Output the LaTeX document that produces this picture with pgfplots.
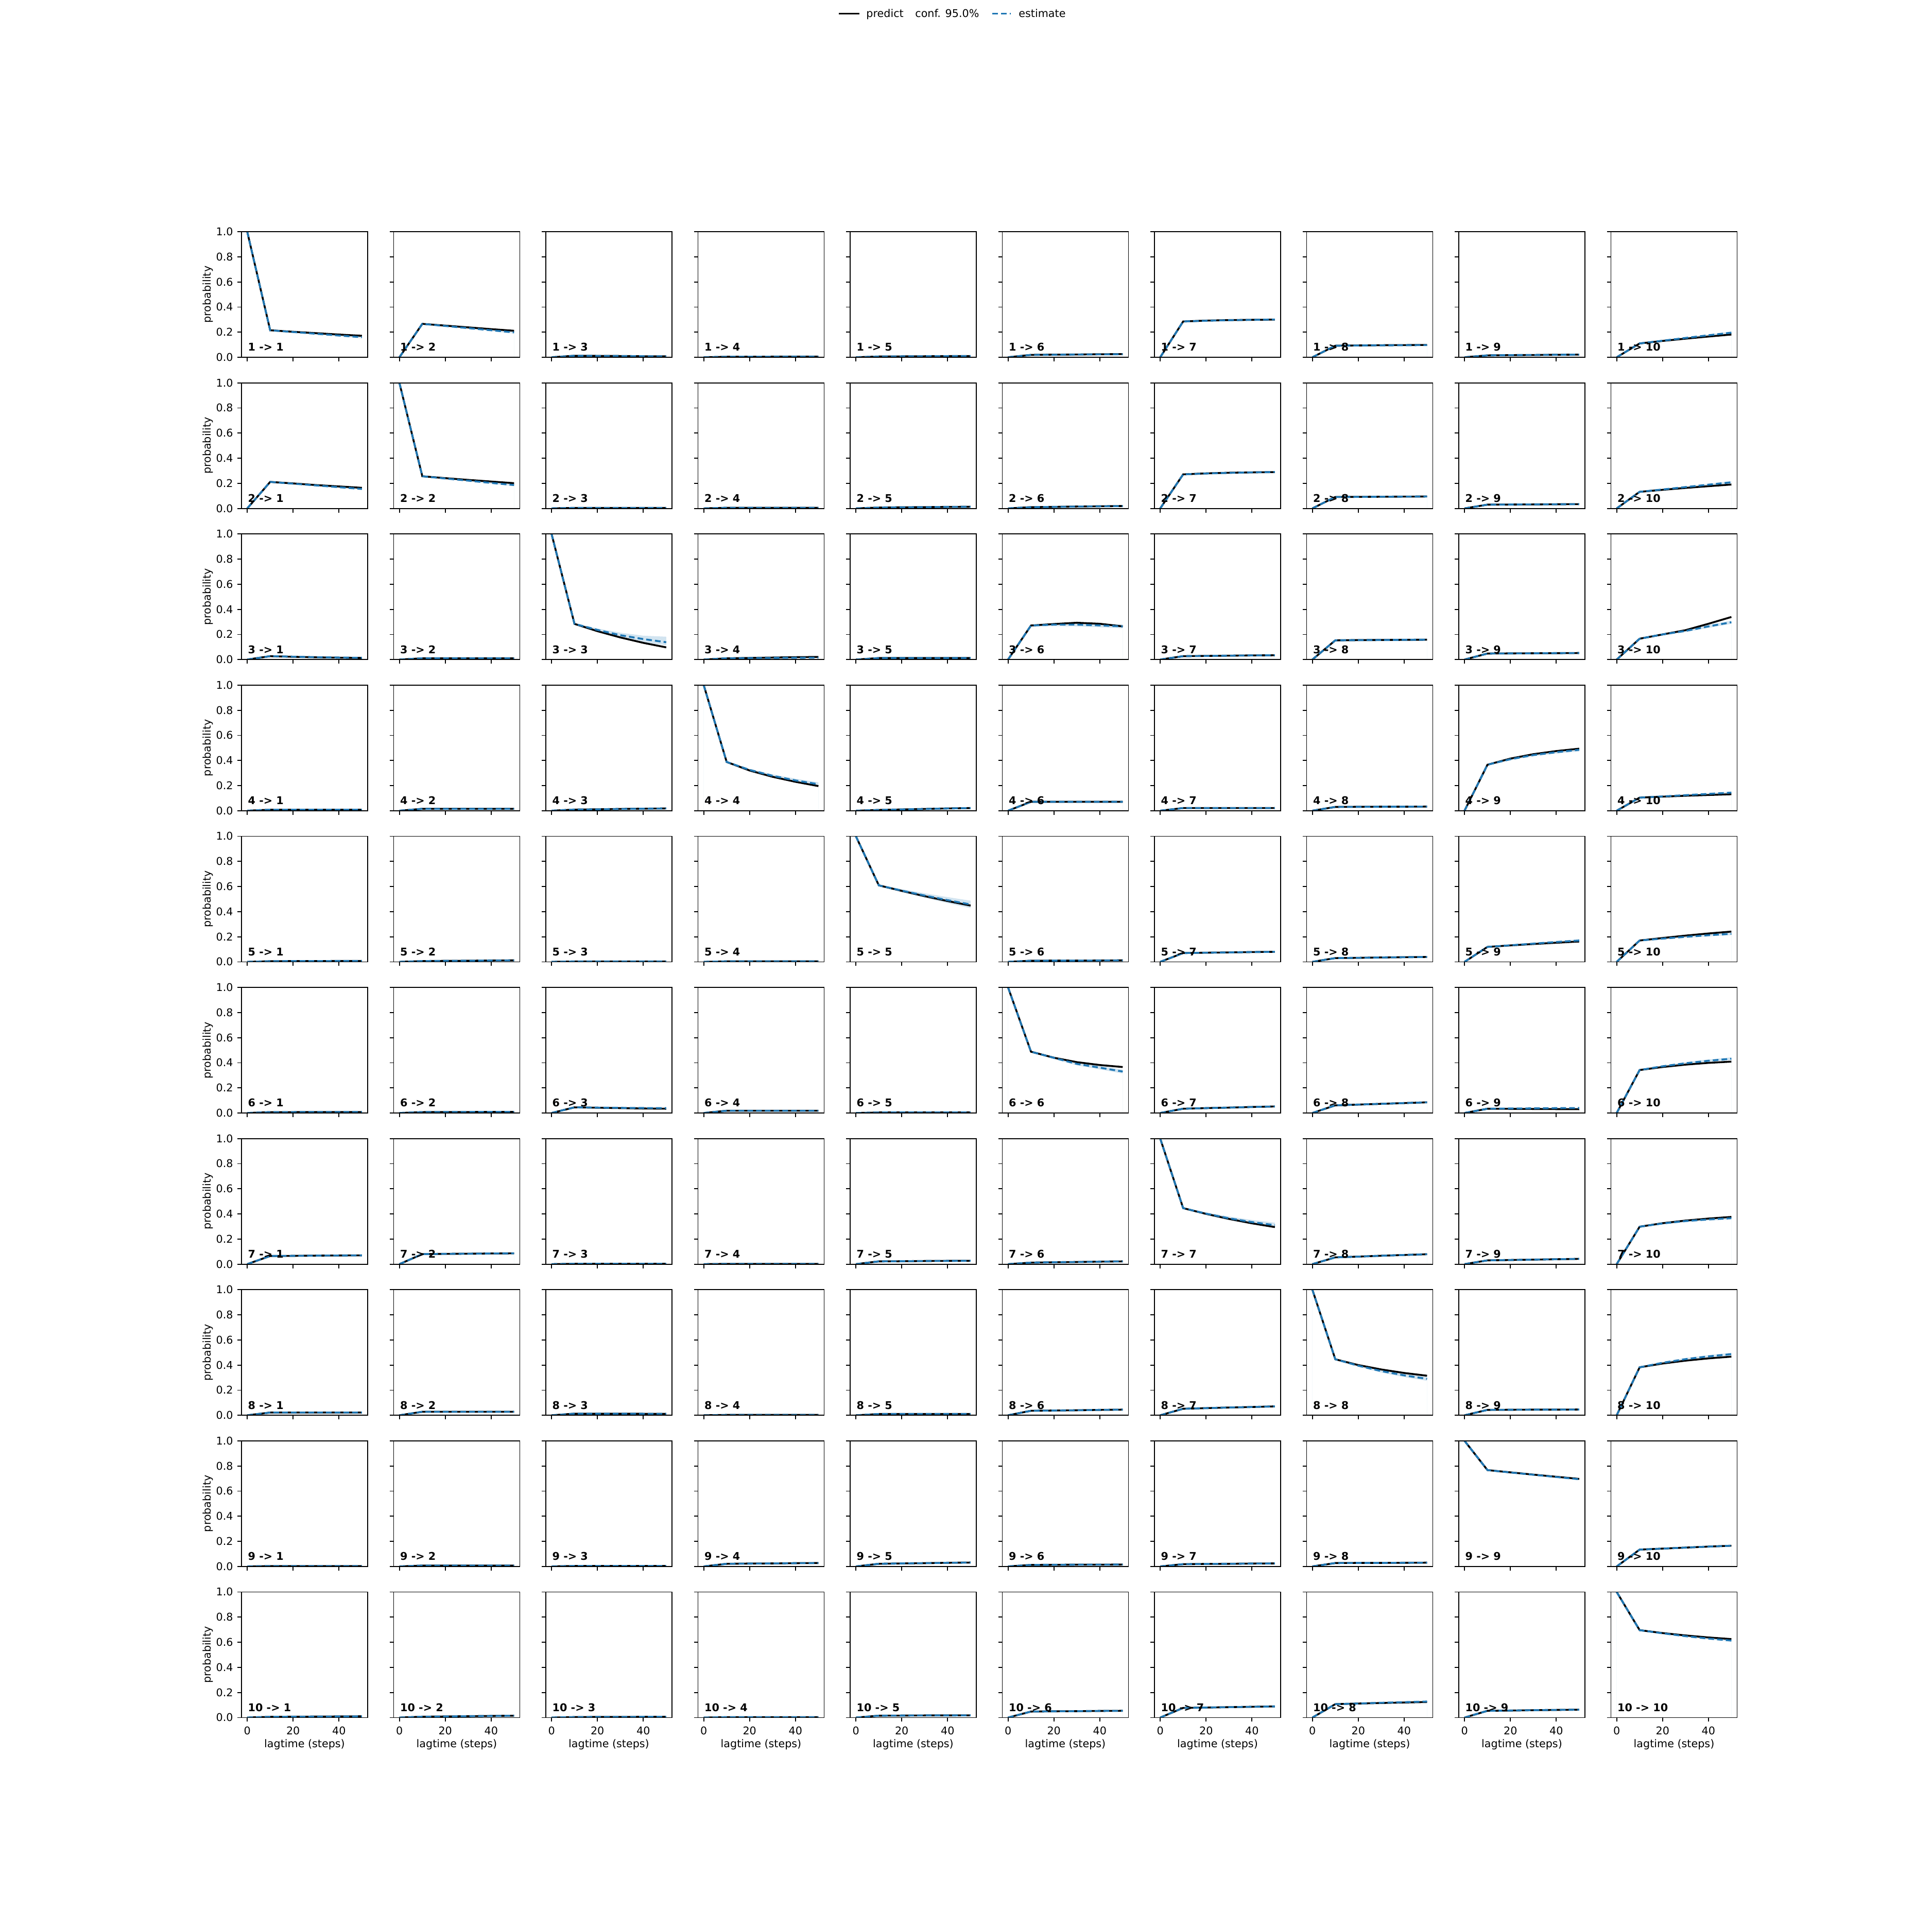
\documentclass[border=0pt]{standalone}
\usepackage{pgfplots}
\pgfplotsset{compat=1.18}
\usepackage{pgfplotstable}
\usepackage{fontspec}
\setmainfont{DejaVu Sans}
\definecolor{c0}{HTML}{1F77B4}
\pgfplotsset{
 panel/.style={
  scale only axis, width=122.5pt, height=122pt, anchor=north west,
  xmin=-2.5, xmax=52.5, ymin=0, ymax=1,
  xtick={0,20,40}, ytick={0,0.2,0.4,0.6,0.8,1.0},
  tick pos=left, tick align=outside, major tick length=4pt,
  major tick style={black, line width=0.9pt},
  axis line style={line width=0.9pt},
  axis on top,
  /pgf/number format/assume math mode=true,
  yticklabel style={/pgf/number format/fixed, /pgf/number format/fixed zerofill, /pgf/number format/precision=1, inner sep=0pt, xshift=-4pt},
  xticklabel style={inner sep=0pt, yshift=-4.5pt},
  xlabel style={at={(axis description cs:0.5,-0.214)}, anchor=center, inner sep=0pt},
  ylabel style={at={(axis description cs:-0.265,0.5)}, anchor=center, inner sep=0pt},
  no markers,
 }}
\newcommand\panel[3]{%
 \pgfplotstableread[row sep=\\]{x p e lo hi\\#3}\tbl
 \ifnum#2=1 \pgfplotsset{colst/.style={ylabel={probability}}}\else\pgfplotsset{colst/.style={yticklabels={}}}\fi
 \ifnum#1=10 \pgfplotsset{rowst/.style={xlabel={lagtime (steps)}}}\else\pgfplotsset{rowst/.style={xticklabels={}}}\fi
 \begin{axis}[panel, colst, rowst, at={({234.5pt+(#2-1)*147.75pt},{-225pt-(#1-1)*146.8pt})}]
  \addplot[fill=c0, fill opacity=0.2, draw=none] table[x=x,y=hi]{\tbl} \closedcycle;
  \addplot[fill=white, draw=none] table[x=x,y=lo]{\tbl} \closedcycle;
  \addplot[black, line width=1.8pt] table[x=x,y=p]{\tbl};
  \addplot[c0, line width=1.8pt, dash pattern=on 5.5pt off 3pt] table[x=x,y=e]{\tbl};
  \node[anchor=base west, inner sep=0pt, font=\bfseries] at (rel axis cs:0.05,0.05) {#1 -> #2};
 \end{axis}}
\begin{document}
\fontsize{10.35pt}{12.4pt}\selectfont
\begin{tikzpicture}
\path[use as bounding box] (0,0) rectangle (1875.5pt,-1875.5pt);
% legend
\draw[black, line width=1.8pt] (814.5pt,-13.3pt) -- (834.5pt,-13.3pt);
\node[anchor=base west, inner sep=0pt] at (841pt,-16.75pt) {predict};
\node[anchor=base west, inner sep=0pt] at (888.5pt,-16.75pt) {conf. 95.0\%};
\draw[c0, line width=1.8pt, dash pattern=on 5.5pt off 3pt] (963.5pt,-13.3pt) -- (981.5pt,-13.3pt);
\node[anchor=base west, inner sep=0pt] at (989pt,-16.75pt) {estimate};
% row 1
\panel{1}{1}{0 1 1 1 1\\10 .215 .215 .211 .219\\20 .203 .201 .195 .207\\30 .192 .187 .180 .194\\40 .181 .173 .165 .181\\50 .171 .160 .151 .169\\}
\panel{1}{2}{0 0 0 0 0\\10 .266 .266 .261 .271\\20 .252 .249 .243 .255\\30 .238 .232 .225 .239\\40 .224 .215 .207 .223\\50 .211 .198 .189 .207\\}
\panel{1}{3}{0 0 0 0 0\\10 .012 .012 .010 .014\\20 .011 .011 .009 .013\\30 .010 .010 .008 .012\\40 .008 .008 .006 .010\\50 .007 .007 .005 .009\\}
\panel{1}{4}{0 0 0 0 0\\10 .004 .004 .002 .006\\20 .004 .004 .002 .006\\30 .005 .005 .003 .007\\40 .005 .005 .003 .007\\50 .005 .005 .003 .007\\}
\panel{1}{5}{0 0 0 0 0\\10 .006 .006 .004 .008\\20 .007 .007 .005 .009\\30 .008 .008 .006 .010\\40 .009 .009 .007 .011\\50 .010 .010 .008 .012\\}
\panel{1}{6}{0 0 0 0 0\\10 .019 .019 .016 .022\\20 .021 .020 .017 .023\\30 .022 .022 .019 .025\\40 .024 .023 .020 .026\\50 .025 .024 .021 .027\\}
\panel{1}{7}{0 0 0 0 0\\10 .285 .285 .279 .291\\20 .292 .291 .285 .297\\30 .296 .295 .289 .301\\40 .298 .298 .292 .304\\50 .300 .301 .295 .307\\}
\panel{1}{8}{0 0 0 0 0\\10 .092 .092 .088 .096\\20 .094 .094 .090 .098\\30 .096 .095 .091 .099\\40 .097 .096 .092 .100\\50 .098 .097 .093 .101\\}
\panel{1}{9}{0 0 0 0 0\\10 .015 .015 .012 .018\\20 .017 .017 .014 .020\\30 .018 .018 .015 .021\\40 .020 .020 .017 .023\\50 .021 .021 .018 .024\\}
\panel{1}{10}{0 0 0 0 0\\10 .110 .110 .106 .114\\20 .130 .132 .126 .138\\30 .148 .154 .147 .161\\40 .165 .175 .167 .183\\50 .181 .196 .187 .205\\}
% row 2
\panel{2}{1}{0 0 0 0 0\\10 .211 .211 .207 .215\\20 .199 .197 .191 .203\\30 .186 .183 .176 .190\\40 .175 .169 .161 .177\\50 .164 .155 .146 .164\\}
\panel{2}{2}{0 1 1 1 1\\10 .256 .256 .252 .260\\20 .241 .238 .232 .244\\30 .227 .221 .214 .228\\40 .214 .203 .195 .211\\50 .201 .186 .177 .195\\}
\panel{2}{3}{0 0 0 0 0\\10 .004 .004 .002 .006\\20 .004 .004 .002 .006\\30 .004 .004 .002 .006\\40 .004 .004 .002 .006\\50 .004 .004 .002 .006\\}
\panel{2}{4}{0 0 0 0 0\\10 .005 .005 .003 .007\\20 .005 .005 .003 .007\\30 .005 .005 .003 .007\\40 .005 .005 .003 .007\\50 .005 .005 .003 .007\\}
\panel{2}{5}{0 0 0 0 0\\10 .007 .007 .005 .009\\20 .009 .009 .007 .011\\30 .010 .010 .008 .012\\40 .012 .012 .010 .014\\50 .013 .013 .011 .015\\}
\panel{2}{6}{0 0 0 0 0\\10 .010 .010 .007 .013\\20 .012 .012 .009 .015\\30 .015 .015 .012 .018\\40 .017 .017 .014 .020\\50 .019 .019 .016 .022\\}
\panel{2}{7}{0 0 0 0 0\\10 .271 .271 .265 .277\\20 .279 .278 .272 .284\\30 .284 .283 .277 .289\\40 .287 .287 .281 .293\\50 .289 .290 .284 .296\\}
\panel{2}{8}{0 0 0 0 0\\10 .091 .091 .087 .095\\20 .092 .092 .088 .096\\30 .093 .093 .089 .097\\40 .094 .094 .090 .098\\50 .095 .095 .091 .099\\}
\panel{2}{9}{0 0 0 0 0\\10 .030 .030 .027 .033\\20 .031 .031 .028 .034\\30 .032 .032 .029 .035\\40 .033 .033 .030 .036\\50 .034 .034 .031 .037\\}
\panel{2}{10}{0 0 0 0 0\\10 .132 .132 .128 .136\\20 .148 .151 .145 .157\\30 .163 .170 .163 .177\\40 .177 .189 .181 .197\\50 .190 .208 .199 .217\\}
% row 3
\panel{3}{1}{0 0 0 0 0\\10 .027 .027 .024 .030\\20 .022 .023 .020 .026\\30 .018 .019 .016 .022\\40 .015 .016 .013 .019\\50 .013 .014 .011 .017\\}
\panel{3}{2}{0 0 0 0 0\\10 .010 .010 .008 .012\\20 .010 .010 .008 .012\\30 .010 .010 .008 .012\\40 .010 .010 .008 .012\\50 .010 .010 .008 .012\\}
\panel{3}{3}{0 1 1 1 1\\10 .284 .284 .276 .292\\20 .226 .236 .224 .248\\30 .176 .194 .174 .214\\40 .133 .163 .136 .190\\50 .097 .138 .114 .182\\}
\panel{3}{4}{0 0 0 0 0\\10 .010 .010 .008 .012\\20 .013 .012 .010 .014\\30 .016 .013 .011 .015\\40 .019 .014 .012 .016\\50 .021 .015 .013 .017\\}
\panel{3}{5}{0 0 0 0 0\\10 .012 .012 .010 .014\\20 .012 .012 .010 .014\\30 .012 .012 .010 .014\\40 .012 .012 .010 .014\\50 .012 .012 .010 .014\\}
\panel{3}{6}{0 0 0 0 0\\10 .271 .271 .263 .279\\20 .283 .278 .266 .290\\30 .293 .278 .264 .292\\40 .285 .272 .257 .287\\50 .264 .264 .248 .280\\}
\panel{3}{7}{0 0 0 0 0\\10 .027 .027 .024 .030\\20 .029 .029 .026 .032\\30 .031 .031 .028 .034\\40 .033 .033 .030 .036\\50 .034 .034 .031 .037\\}
\panel{3}{8}{0 0 0 0 0\\10 .153 .153 .143 .163\\20 .155 .155 .145 .165\\30 .156 .156 .146 .166\\40 .157 .157 .147 .167\\50 .158 .158 .148 .168\\}
\panel{3}{9}{0 0 0 0 0\\10 .048 .048 .044 .052\\20 .049 .049 .045 .053\\30 .050 .050 .046 .054\\40 .051 .051 .047 .055\\50 .052 .052 .048 .056\\}
\panel{3}{10}{0 0 0 0 0\\10 .166 .166 .160 .172\\20 .200 .200 .192 .208\\30 .234 .228 .218 .238\\40 .285 .264 .252 .276\\50 .339 .297 .284 .310\\}
% row 4
\panel{4}{1}{0 0 0 0 0\\10 .008 .008 .006 .010\\20 .008 .008 .006 .010\\30 .008 .008 .006 .010\\40 .008 .008 .006 .010\\50 .008 .008 .006 .010\\}
\panel{4}{2}{0 0 0 0 0\\10 .015 .015 .013 .017\\20 .015 .015 .013 .017\\30 .015 .015 .013 .017\\40 .015 .015 .013 .017\\50 .015 .015 .013 .017\\}
\panel{4}{3}{0 0 0 0 0\\10 .009 .009 .007 .011\\20 .011 .011 .009 .013\\30 .014 .014 .012 .016\\40 .016 .016 .014 .018\\50 .018 .018 .016 .020\\}
\panel{4}{4}{0 1 1 1 1\\10 .388 .388 .382 .394\\20 .320 .325 .316 .334\\30 .270 .278 .266 .290\\40 .230 .241 .227 .255\\50 .196 .211 .196 .226\\}
\panel{4}{5}{0 0 0 0 0\\10 .006 .006 .004 .008\\20 .010 .010 .008 .012\\30 .014 .014 .012 .016\\40 .018 .018 .016 .020\\50 .021 .021 .019 .023\\}
\panel{4}{6}{0 0 0 0 0\\10 .071 .071 .067 .075\\20 .071 .071 .067 .075\\30 .071 .071 .067 .075\\40 .071 .071 .067 .075\\50 .071 .071 .067 .075\\}
\panel{4}{7}{0 0 0 0 0\\10 .021 .021 .018 .024\\20 .021 .021 .018 .024\\30 .021 .021 .018 .024\\40 .021 .021 .018 .024\\50 .021 .021 .018 .024\\}
\panel{4}{8}{0 0 0 0 0\\10 .030 .030 .027 .033\\20 .031 .031 .028 .034\\30 .032 .032 .029 .035\\40 .032 .032 .029 .035\\50 .033 .033 .030 .036\\}
\panel{4}{9}{0 0 0 0 0\\10 .366 .366 .360 .372\\20 .415 .410 .401 .419\\30 .450 .443 .432 .454\\40 .475 .466 .454 .478\\50 .494 .485 .472 .498\\}
\panel{4}{10}{0 0 0 0 0\\10 .104 .104 .100 .108\\20 .112 .114 .109 .119\\30 .119 .124 .118 .130\\40 .125 .134 .127 .141\\50 .131 .144 .136 .152\\}
% row 5
\panel{5}{1}{0 0 0 0 0\\10 .005 .005 .003 .007\\20 .006 .006 .004 .008\\30 .006 .006 .004 .008\\40 .007 .007 .005 .009\\50 .007 .007 .005 .009\\}
\panel{5}{2}{0 0 0 0 0\\10 .006 .006 .004 .008\\20 .008 .008 .006 .010\\30 .009 .009 .007 .011\\40 .011 .011 .009 .013\\50 .012 .012 .010 .014\\}
\panel{5}{3}{0 0 0 0 0\\10 .003 .003 .001 .005\\20 .003 .003 .001 .005\\30 .003 .003 .001 .005\\40 .003 .003 .001 .005\\50 .003 .003 .001 .005\\}
\panel{5}{4}{0 0 0 0 0\\10 .004 .004 .002 .006\\20 .004 .004 .002 .006\\30 .004 .004 .002 .006\\40 .004 .004 .002 .006\\50 .004 .004 .002 .006\\}
\panel{5}{5}{0 1 1 1 1\\10 .609 .609 .603 .615\\20 .565 .567 .555 .579\\30 .523 .528 .510 .546\\40 .484 .491 .467 .515\\50 .448 .457 .427 .487\\}
\panel{5}{6}{0 0 0 0 0\\10 .009 .009 .007 .011\\20 .010 .010 .008 .012\\30 .010 .010 .008 .012\\40 .011 .011 .009 .013\\50 .012 .012 .010 .014\\}
\panel{5}{7}{0 0 0 0 0\\10 .070 .070 .066 .074\\20 .073 .073 .069 .077\\30 .075 .075 .071 .079\\40 .078 .078 .074 .082\\50 .080 .080 .076 .084\\}
\panel{5}{8}{0 0 0 0 0\\10 .030 .030 .027 .033\\20 .032 .032 .029 .035\\30 .035 .035 .032 .038\\40 .037 .037 .034 .040\\50 .039 .039 .036 .042\\}
\panel{5}{9}{0 0 0 0 0\\10 .119 .119 .114 .124\\20 .131 .132 .125 .139\\30 .142 .145 .137 .153\\40 .152 .158 .149 .167\\50 .162 .170 .160 .180\\}
\panel{5}{10}{0 0 0 0 0\\10 .170 .170 .165 .175\\20 .190 .185 .178 .192\\30 .209 .199 .191 .207\\40 .226 .212 .203 .221\\50 .241 .223 .213 .233\\}
% row 6
\panel{6}{1}{0 0 0 0 0\\10 .007 .007 .005 .009\\20 .007 .007 .005 .009\\30 .008 .008 .006 .010\\40 .008 .008 .006 .010\\50 .008 .008 .006 .010\\}
\panel{6}{2}{0 0 0 0 0\\10 .007 .007 .005 .009\\20 .008 .008 .006 .010\\30 .008 .008 .006 .010\\40 .009 .009 .007 .011\\50 .009 .009 .007 .011\\}
\panel{6}{3}{0 0 0 0 0\\10 .045 .045 .042 .048\\20 .042 .043 .040 .046\\30 .039 .041 .038 .044\\40 .036 .040 .037 .043\\50 .034 .039 .036 .042\\}
\panel{6}{4}{0 0 0 0 0\\10 .018 .018 .016 .020\\20 .018 .018 .016 .020\\30 .018 .018 .016 .020\\40 .018 .018 .016 .020\\50 .018 .018 .016 .020\\}
\panel{6}{5}{0 0 0 0 0\\10 .004 .004 .002 .006\\20 .004 .004 .002 .006\\30 .004 .004 .002 .006\\40 .004 .004 .002 .006\\50 .004 .004 .002 .006\\}
\panel{6}{6}{0 1 1 1 1\\10 .488 .488 .482 .494\\20 .440 .439 .429 .449\\30 .405 .391 .379 .403\\40 .382 .361 .347 .375\\50 .366 .330 .314 .346\\}
\panel{6}{7}{0 0 0 0 0\\10 .034 .034 .031 .037\\20 .039 .039 .036 .042\\30 .043 .043 .040 .046\\40 .048 .048 .045 .051\\50 .052 .052 .049 .055\\}
\panel{6}{8}{0 0 0 0 0\\10 .061 .061 .057 .065\\20 .067 .067 .063 .071\\30 .073 .073 .069 .077\\40 .079 .079 .075 .083\\50 .085 .085 .081 .089\\}
\panel{6}{9}{0 0 0 0 0\\10 .034 .034 .031 .037\\20 .033 .036 .033 .039\\30 .032 .037 .034 .040\\40 .031 .039 .036 .042\\50 .030 .040 .037 .043\\}
\panel{6}{10}{0 0 0 0 0\\10 .342 .342 .336 .348\\20 .366 .372 .364 .380\\30 .385 .396 .387 .405\\40 .399 .416 .406 .426\\50 .409 .432 .421 .443\\}
% row 7
\panel{7}{1}{0 0 0 0 0\\10 .065 .065 .062 .068\\20 .066 .066 .063 .069\\30 .068 .068 .065 .071\\40 .069 .069 .066 .072\\50 .070 .070 .067 .073\\}
\panel{7}{2}{0 0 0 0 0\\10 .080 .080 .076 .084\\20 .082 .082 .078 .086\\30 .083 .083 .079 .087\\40 .085 .085 .081 .089\\50 .086 .086 .082 .090\\}
\panel{7}{3}{0 0 0 0 0\\10 .003 .003 .001 .005\\20 .003 .003 .001 .005\\30 .003 .003 .001 .005\\40 .003 .003 .001 .005\\50 .003 .003 .001 .005\\}
\panel{7}{4}{0 0 0 0 0\\10 .002 .002 .000 .004\\20 .002 .002 .000 .004\\30 .002 .002 .000 .004\\40 .002 .002 .000 .004\\50 .002 .002 .000 .004\\}
\panel{7}{5}{0 0 0 0 0\\10 .022 .022 .019 .025\\20 .023 .023 .020 .026\\30 .025 .025 .022 .028\\40 .026 .026 .023 .029\\50 .027 .027 .024 .030\\}
\panel{7}{6}{0 0 0 0 0\\10 .012 .012 .009 .015\\20 .015 .015 .012 .018\\30 .017 .017 .014 .020\\40 .020 .020 .017 .023\\50 .022 .022 .019 .025\\}
\panel{7}{7}{0 1 1 1 1\\10 .446 .446 .440 .452\\20 .400 .402 .392 .412\\30 .360 .365 .351 .379\\40 .325 .335 .318 .352\\50 .295 .310 .290 .330\\}
\panel{7}{8}{0 0 0 0 0\\10 .054 .054 .050 .058\\20 .060 .060 .056 .064\\30 .067 .067 .063 .071\\40 .073 .073 .069 .077\\50 .079 .079 .075 .083\\}
\panel{7}{9}{0 0 0 0 0\\10 .030 .030 .027 .033\\20 .033 .033 .030 .036\\30 .036 .036 .033 .039\\40 .039 .039 .036 .042\\50 .042 .042 .039 .045\\}
\panel{7}{10}{0 0 0 0 0\\10 .298 .298 .292 .304\\20 .326 .324 .316 .332\\30 .347 .343 .334 .352\\40 .363 .356 .346 .366\\50 .376 .366 .355 .377\\}
% row 8
\panel{8}{1}{0 0 0 0 0\\10 .022 .022 .019 .025\\20 .022 .022 .019 .025\\30 .022 .022 .019 .025\\40 .022 .022 .019 .025\\50 .022 .022 .019 .025\\}
\panel{8}{2}{0 0 0 0 0\\10 .028 .028 .025 .031\\20 .028 .028 .025 .031\\30 .028 .028 .025 .031\\40 .028 .028 .025 .031\\50 .028 .028 .025 .031\\}
\panel{8}{3}{0 0 0 0 0\\10 .013 .013 .011 .015\\20 .013 .013 .011 .015\\30 .013 .013 .011 .015\\40 .012 .012 .010 .014\\50 .012 .012 .010 .014\\}
\panel{8}{4}{0 0 0 0 0\\10 .003 .003 .001 .005\\20 .003 .003 .001 .005\\30 .003 .003 .001 .005\\40 .003 .003 .001 .005\\50 .003 .003 .001 .005\\}
\panel{8}{5}{0 0 0 0 0\\10 .010 .010 .008 .012\\20 .010 .010 .008 .012\\30 .010 .010 .008 .012\\40 .010 .010 .008 .012\\50 .010 .010 .008 .012\\}
\panel{8}{6}{0 0 0 0 0\\10 .036 .036 .033 .039\\20 .038 .038 .035 .041\\30 .040 .040 .037 .043\\40 .043 .043 .040 .046\\50 .045 .045 .042 .048\\}
\panel{8}{7}{0 0 0 0 0\\10 .052 .052 .049 .055\\20 .057 .057 .054 .060\\30 .062 .062 .059 .065\\40 .066 .066 .063 .069\\50 .071 .071 .068 .074\\}
\panel{8}{8}{0 1 1 1 1\\10 .446 .446 .440 .452\\20 .400 .395 .385 .405\\30 .365 .352 .340 .364\\40 .337 .318 .304 .332\\50 .315 .290 .274 .306\\}
\panel{8}{9}{0 0 0 0 0\\10 .043 .043 .040 .046\\20 .044 .044 .041 .047\\30 .045 .045 .042 .048\\40 .045 .045 .042 .048\\50 .046 .046 .043 .049\\}
\panel{8}{10}{0 0 0 0 0\\10 .382 .382 .376 .388\\20 .412 .418 .410 .426\\30 .435 .447 .438 .456\\40 .453 .469 .459 .479\\50 .467 .487 .476 .498\\}
% row 9
\panel{9}{1}{0 0 0 0 0\\10 .003 .003 .001 .005\\20 .003 .003 .001 .005\\30 .003 .003 .001 .005\\40 .003 .003 .001 .005\\50 .003 .003 .001 .005\\}
\panel{9}{2}{0 0 0 0 0\\10 .007 .007 .005 .009\\20 .007 .007 .005 .009\\30 .007 .007 .005 .009\\40 .007 .007 .005 .009\\50 .007 .007 .005 .009\\}
\panel{9}{3}{0 0 0 0 0\\10 .004 .004 .002 .006\\20 .004 .004 .002 .006\\30 .004 .004 .002 .006\\40 .004 .004 .002 .006\\50 .004 .004 .002 .006\\}
\panel{9}{4}{0 0 0 0 0\\10 .021 .021 .018 .024\\20 .023 .023 .020 .026\\30 .024 .024 .021 .027\\40 .026 .026 .023 .029\\50 .027 .027 .024 .030\\}
\panel{9}{5}{0 0 0 0 0\\10 .021 .021 .018 .024\\20 .024 .024 .021 .027\\30 .026 .026 .023 .029\\40 .029 .029 .026 .032\\50 .031 .031 .028 .034\\}
\panel{9}{6}{0 0 0 0 0\\10 .012 .012 .010 .014\\20 .013 .013 .011 .015\\30 .014 .014 .012 .016\\40 .014 .014 .012 .016\\50 .015 .015 .013 .017\\}
\panel{9}{7}{0 0 0 0 0\\10 .018 .018 .015 .021\\20 .020 .020 .017 .023\\30 .021 .021 .018 .024\\40 .023 .023 .020 .026\\50 .024 .024 .021 .027\\}
\panel{9}{8}{0 0 0 0 0\\10 .027 .027 .024 .030\\20 .028 .028 .025 .031\\30 .028 .028 .025 .031\\40 .029 .029 .026 .032\\50 .030 .030 .027 .033\\}
\panel{9}{9}{0 1 1 1 1\\10 .767 .767 .761 .773\\20 .749 .748 .742 .754\\30 .731 .730 .724 .736\\40 .714 .712 .706 .718\\50 .697 .694 .688 .700\\}
\panel{9}{10}{0 0 0 0 0\\10 .134 .134 .129 .139\\20 .142 .142 .137 .147\\30 .150 .150 .145 .155\\40 .158 .158 .153 .163\\50 .165 .165 .160 .170\\}
% row 10
\panel{10}{1}{0 0 0 0 0\\10 .006 .006 .004 .008\\20 .007 .007 .005 .009\\30 .008 .008 .006 .010\\40 .009 .009 .007 .011\\50 .010 .010 .008 .012\\}
\panel{10}{2}{0 0 0 0 0\\10 .007 .007 .005 .009\\20 .009 .009 .007 .011\\30 .011 .011 .009 .013\\40 .013 .013 .011 .015\\50 .015 .015 .013 .017\\}
\panel{10}{3}{0 0 0 0 0\\10 .004 .004 .002 .006\\20 .005 .005 .003 .007\\30 .005 .005 .003 .007\\40 .006 .006 .004 .008\\50 .006 .006 .004 .008\\}
\panel{10}{4}{0 0 0 0 0\\10 .003 .003 .001 .005\\20 .003 .003 .001 .005\\30 .003 .003 .001 .005\\40 .003 .003 .001 .005\\50 .003 .003 .001 .005\\}
\panel{10}{5}{0 0 0 0 0\\10 .015 .015 .013 .017\\20 .016 .016 .014 .018\\30 .017 .017 .015 .019\\40 .017 .017 .015 .019\\50 .018 .018 .016 .020\\}
\panel{10}{6}{0 0 0 0 0\\10 .048 .048 .045 .051\\20 .050 .050 .047 .053\\30 .051 .051 .048 .054\\40 .053 .053 .050 .056\\50 .054 .054 .051 .057\\}
\panel{10}{7}{0 0 0 0 0\\10 .077 .077 .073 .081\\20 .080 .080 .076 .084\\30 .083 .083 .079 .087\\40 .086 .086 .082 .090\\50 .089 .089 .085 .093\\}
\panel{10}{8}{0 0 0 0 0\\10 .107 .107 .103 .111\\20 .112 .112 .108 .116\\30 .116 .118 .114 .122\\40 .120 .123 .119 .127\\50 .124 .128 .124 .132\\}
\panel{10}{9}{0 0 0 0 0\\10 .054 .054 .051 .057\\20 .056 .056 .053 .059\\30 .059 .059 .056 .062\\40 .061 .061 .058 .064\\50 .063 .063 .060 .066\\}
\panel{10}{10}{0 1 1 1 1\\10 .696 .696 .688 .704\\20 .673 .671 .663 .679\\30 .654 .648 .640 .656\\40 .638 .629 .621 .637\\50 .625 .613 .605 .621\\}
\end{tikzpicture}
\end{document}
